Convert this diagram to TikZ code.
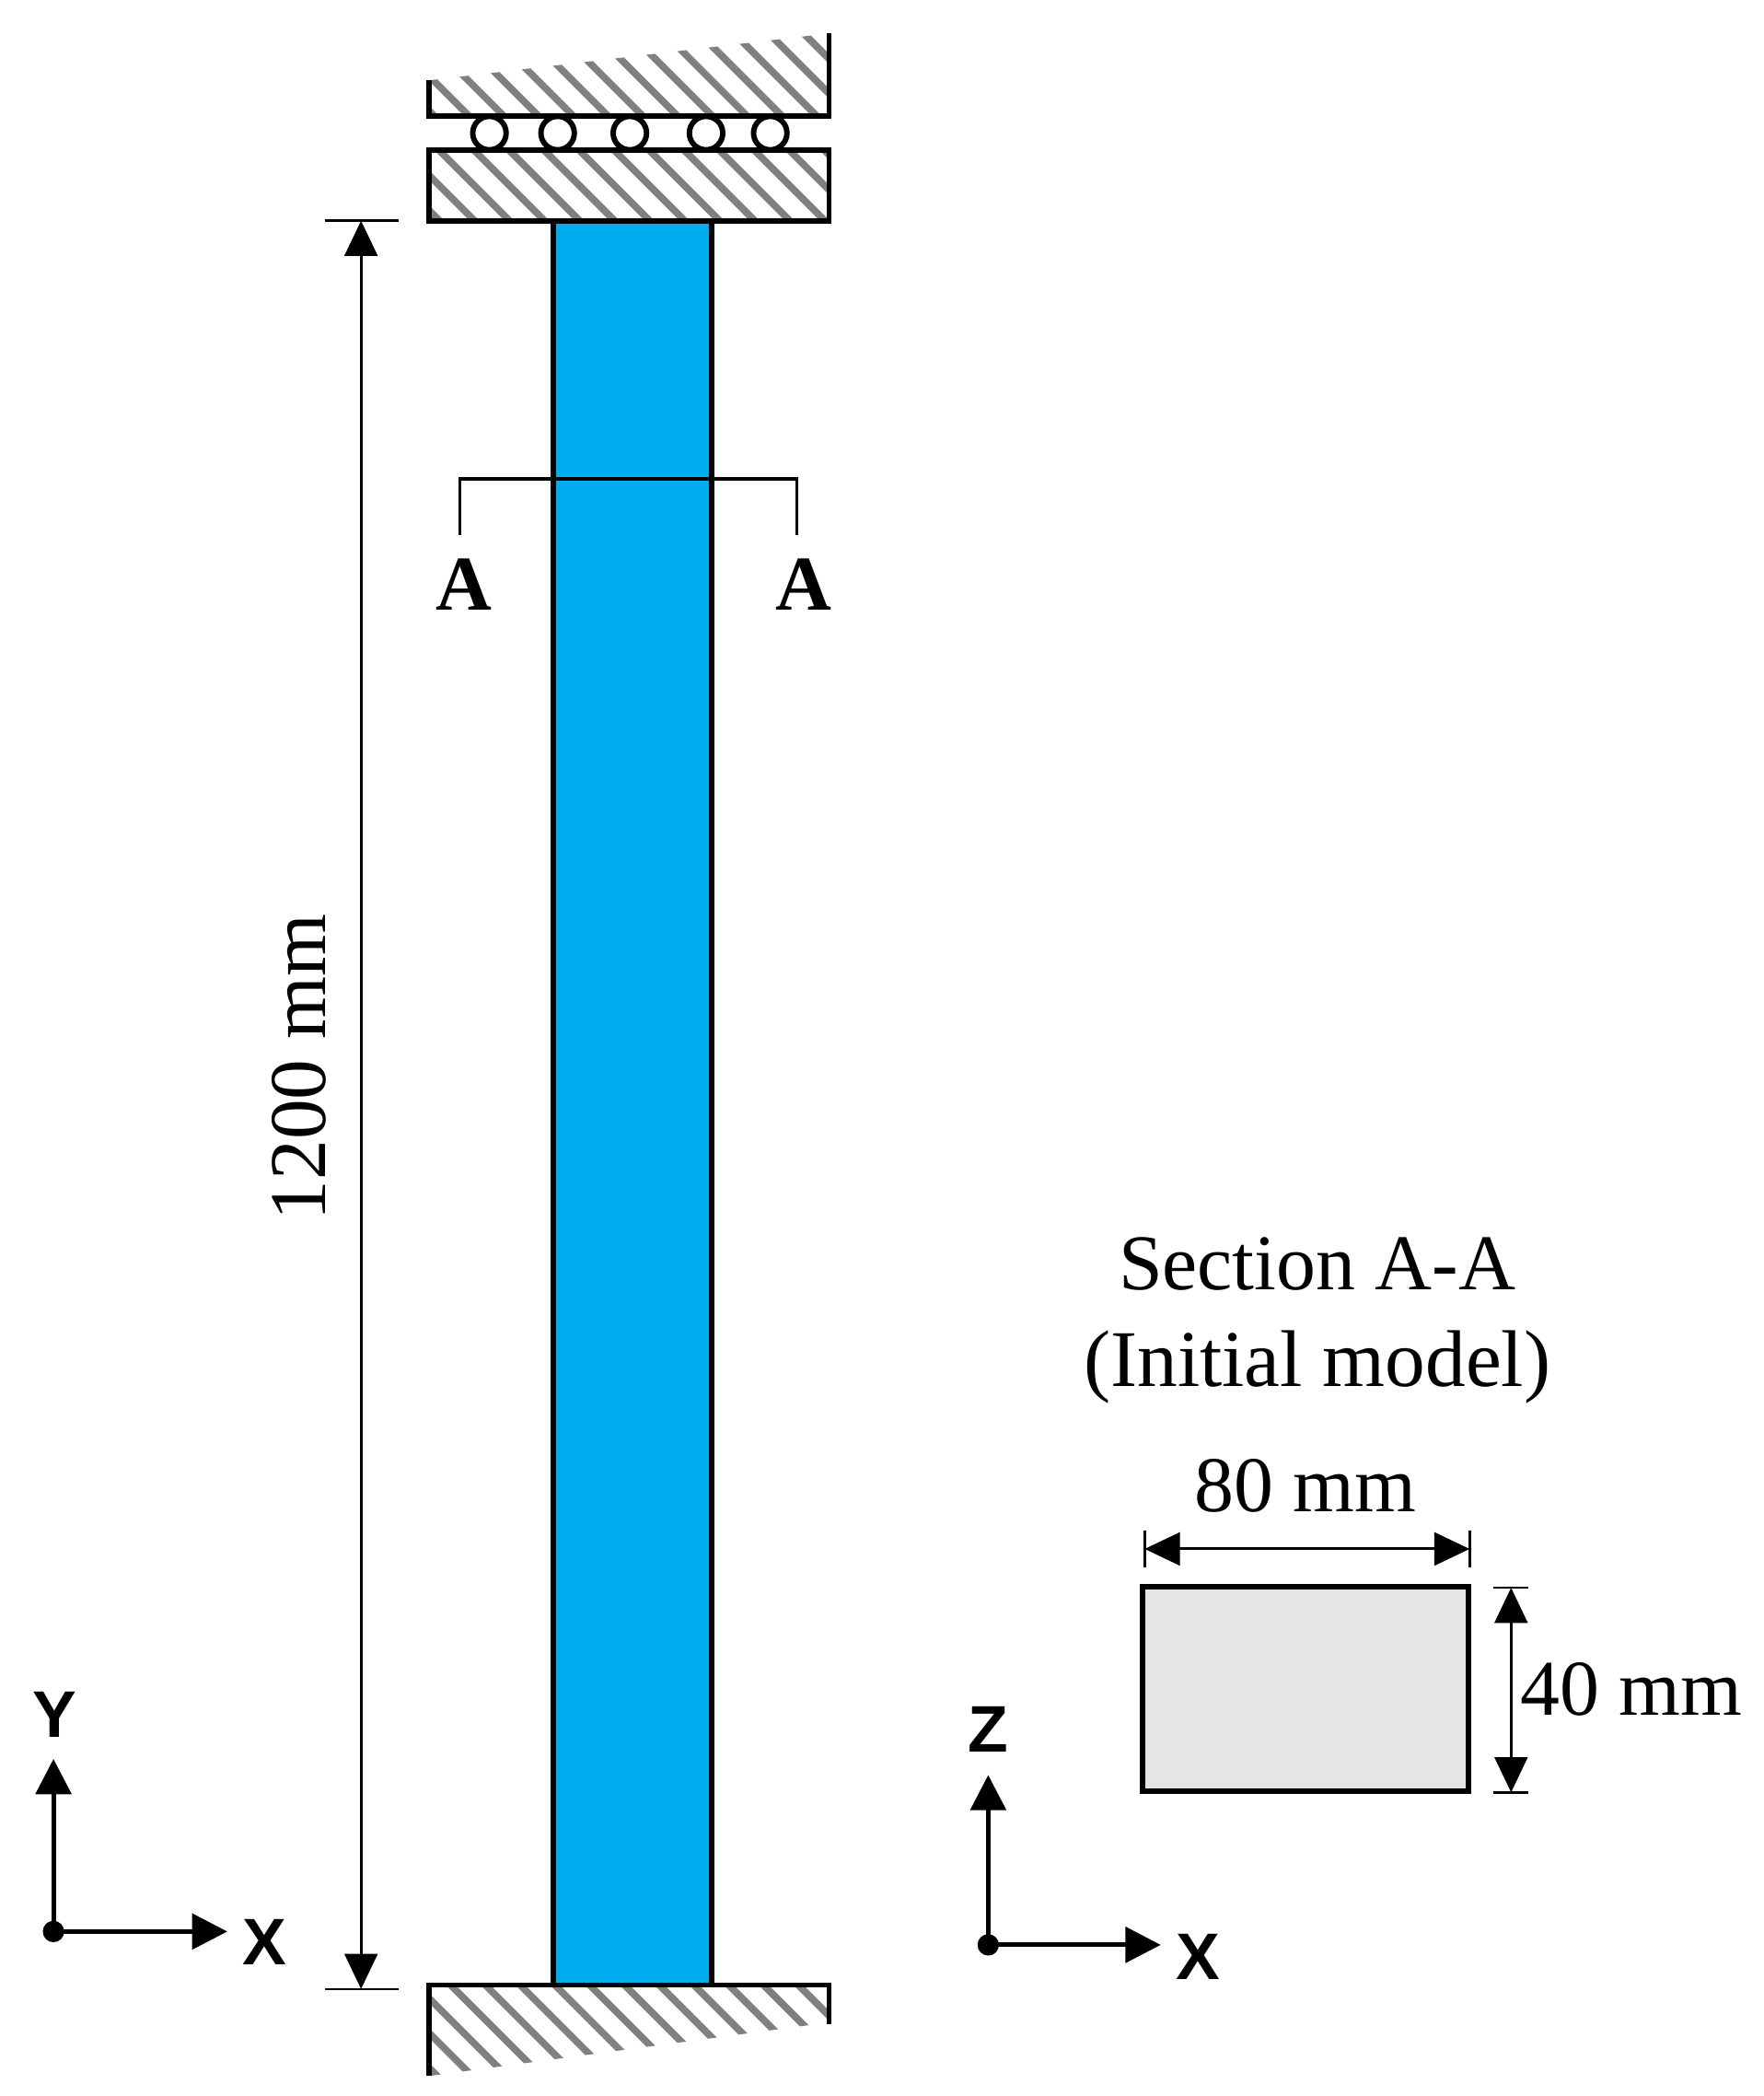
\documentclass[tikz,border=0pt]{standalone}
\usepackage{fontspec}
\setmainfont{Liberation Serif}
\setsansfont{Liberation Sans}
\usetikzlibrary{arrows.meta}
\definecolor{columnblue}{HTML}{00AEEF}
\definecolor{sectiongray}{HTML}{E5E5E5}
\tikzset{
  plate/.style={line width=1.15pt},
  hatchline/.style={line width=1.5pt,color=black!50},
  dimline/.style={line width=0.6pt,black,{Triangle[length=7.5pt,width=7pt]}-{Triangle[length=7.5pt,width=7pt]}},
  axisline/.style={line width=1pt,-{Triangle[length=7.5pt,width=7.5pt]}},
  tickline/.style={line width=0.5pt,black},
  dimtext/.style={font=\fontsize{16.8}{20}\selectfont},
  widetext/.style={font=\fontsize{17.1}{20}\selectfont},
  axistext/.style={font=\fontsize{14}{16}\sffamily\bfseries},
  cuttext/.style={font=\fontsize{16.5}{20}\selectfont\bfseries}
}
\begin{document}
\begin{tikzpicture}
      [x=0.01cm,y=-0.01cm]
      \useasboundingbox (0,0) rectangle (1319,1567);
      % hatching
      \begin{scope}
        \clip (321,60) -- (620,25) -- (620,87) -- (321,87) -- cycle;
        \foreach \i in {-1,...,13} {
          \draw[hatchline] (351+26*\i-100,-13) -- (351+26*\i+10,97);
        }
      \end{scope}
      \begin{scope}
        \clip (321,112) rectangle (620,165);
        \foreach \i in {-3,...,12} {
          \draw[hatchline] (328+26.2*\i-10,102) -- (328+26.2*\i+70,182);
        }
      \end{scope}
      \begin{scope}
        \clip (321,1484) -- (620,1484) -- (620,1512) -- (321,1552) -- cycle;
        \foreach \i in {-3,...,12} {
          \draw[hatchline] (337+26*\i-10,1474) -- (337+26*\i+90,1574);
        }
      \end{scope}
      % supports
      \draw[plate] (321,60) -- (321,86.5) -- (620,86.5) -- (620,25);
      \draw[plate] (321,112) rectangle (620,165);
      \draw[plate] (321,1552) -- (321,1484) -- (620,1484) -- (620,1513);
      \foreach \x in {366,417,471,528,576} {
        \draw[plate,fill=white] (\x,99.5) circle (12.5);
      }
      % column
      \draw[plate,fill=columnblue] (414,165) rectangle (532,1484);
      % section mark
      \draw[line width=0.6pt] (344,400) -- (344,358) -- (596,358) -- (596,400);
      \node[cuttext] (cutL) at (347,437) {A};
      \node[cuttext] (cutR) at (601,437) {A};
      % length
      \coordinate (lenT) at (270,165);
      \coordinate (lenB) at (270,1487);
      \draw[dimline] (lenT) -- (lenB);
      \draw[tickline] (243,165) -- (298,165);
      \draw[tickline] (243,1487) -- (298,1487);
      \node[widetext,rotate=90] (lenText) at (224,798) {1200 mm};
      % axes left
      \coordinate (xyO) at (40,1444);
      \node[axistext] (xyY) at (41,1282) {Y};
      \node[axistext] (xyX) at (198,1452) {X};
      \coordinate (xyYtip) at (40,1315);
      \coordinate (xyXtip) at (170,1444);
      \draw[axisline] (xyO) -- (xyYtip);
      \draw[axisline] (xyO) -- (xyXtip);
      \fill (xyO) circle (8);
      % section
      \node[dimtext] (secTitle) at (985,945) {Section A-A};
      \node[widetext] (secSub) at (985,1022) {(Initial model)};
      \draw[plate,fill=sectiongray] (854.5,1186) rectangle (1098,1339);
      \coordinate (wL) at (856,1158);
      \coordinate (wR) at (1099,1158);
      \draw[dimline] (wL) -- (wR);
      \draw[tickline] (856,1144) -- (856,1172);
      \draw[tickline] (1099,1144) -- (1099,1172);
      \node[dimtext] (wText) at (976,1111) {80 mm};
      \coordinate (hT) at (1130,1187);
      \coordinate (hB) at (1130,1340);
      \draw[dimline] (hT) -- (hB);
      \draw[tickline] (1117,1187) -- (1143,1187);
      \draw[tickline] (1117,1340) -- (1143,1340);
      \node[dimtext] (hText) at (1220,1263) {40 mm};
      % axes right
      \coordinate (xzO) at (739,1454);
      \node[axistext] (xzZ) at (739,1293) {Z};
      \node[axistext] (xzX) at (896,1463) {X};
      \coordinate (xzZtip) at (739,1327);
      \coordinate (xzXtip) at (868,1454);
      \draw[axisline] (xzO) -- (xzZtip);
      \draw[axisline] (xzO) -- (xzXtip);
      \fill (xzO) circle (8);
    \end{tikzpicture}
\end{document}
